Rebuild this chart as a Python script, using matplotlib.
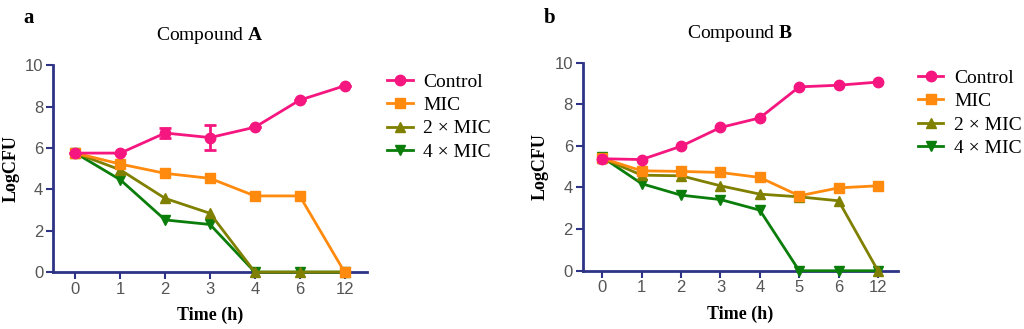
import numpy as np
import matplotlib
matplotlib.use('Agg')
import matplotlib.pyplot as plt

plt.rcParams['mathtext.fontset'] = 'custom'
plt.rcParams['mathtext.rm'] = 'Liberation Serif'
plt.rcParams['mathtext.bf'] = 'Liberation Serif:bold'

# panel a (Compound A)
times_a = ['0', '1', '2', '3', '4', '6', '12']
ctrl_a = [5.75, 5.75, 6.72, 6.50, 7.00, 8.31, 9.00]
ctrl_err_a = [0, 0, 0.22, 0.62, 0, 0, 0]
mic_a = [5.75, 5.22, 4.77, 4.53, 3.68, 3.68, 0.0]
mic2_a = [5.75, 4.94, 3.56, 2.84, 0.0, 0.0, 0.0]
mic4_a = [5.75, 4.46, 2.52, 2.30, 0.0, 0.0, 0.0]

# panel b (Compound B)
times_b = ['0', '1', '2', '3', '4', '5', '6', '12']
ctrl_b = [5.38, 5.34, 5.98, 6.88, 7.34, 8.83, 8.91, 9.06]
mic_b = [5.40, 4.80, 4.77, 4.72, 4.48, 3.60, 3.98, 4.08]
mic2_b = [5.40, 4.59, 4.56, 4.08, 3.68, 3.55, 3.36, 0.0]
mic4_b = [5.45, 4.18, 3.63, 3.42, 2.91, 0.0, 0.0, 0.0]

labels = ['Control', 'MIC', '2 \u00d7 MIC', '4 \u00d7 MIC']
colors = ['#f5167f', '#ff8a0d', '#808000', '#0a7d0a']
markers = ['o', 's', '^', 'v']
navy = '#2e3386'

fig = plt.figure(figsize=(10.24, 3.29), dpi=100)


def draw_panel(ax, times, series, err, title, letter, leg_x, leg_y):
    x = np.arange(len(times))
    handles = []
    for i, (vals, lab) in enumerate(zip(series, labels)):
        h, = ax.plot(x, vals, color=colors[i], marker=markers[i], ms=7.5,
                     lw=2, label=lab, zorder=4 if i == 0 else 3 + (3 - i) * 0.1,
                     clip_on=False)
        handles.append(h)
        if i == 0 and err is not None:
            ax.errorbar(x, vals, yerr=err, fmt='none', ecolor=colors[0],
                        elinewidth=2, capsize=4, capthick=2, zorder=4)
    ax.set_xlim(-0.5, len(times) - 0.5)
    ax.set_ylim(0, 10)
    ax.set_yticks(range(0, 11, 2))
    ax.set_xticks(x)
    ax.set_xticklabels(times)
    for s in ['top', 'right']:
        ax.spines[s].set_visible(False)
    for s in ['left', 'bottom']:
        ax.spines[s].set_color(navy)
        ax.spines[s].set_linewidth(2)
    ax.tick_params(colors=navy, labelcolor='#555555', width=1.5, length=5,
                   labelsize=12, direction='out', pad=2)
    for t in ax.get_xticklabels() + ax.get_yticklabels():
        t.set_family('Liberation Sans')
    ax.set_xlabel('Time (h)', family='Liberation Serif', weight='bold',
                  fontsize=13, labelpad=7)
    ax.set_ylabel('LogCFU', family='Liberation Serif', weight='bold',
                  fontsize=13, labelpad=4)
    ax.set_title(title, family='Liberation Serif', fontsize=14, pad=18)
    ax.legend(handles=handles, loc='upper left', bbox_to_anchor=(leg_x, leg_y),
              frameon=False, prop={'family': 'Liberation Serif', 'size': 14},
              handlelength=1.3, handletextpad=0.55, labelspacing=0.3,
              borderaxespad=0)
    fig.text(letter[0], letter[1], letter[2], family='Liberation Serif',
             weight='bold', fontsize=15, va='center', ha='center')


ax1 = fig.add_axes([0.0518, 0.173, 0.3066, 0.629])
draw_panel(ax1, times_a, [ctrl_a, mic_a, mic2_a, mic4_a], ctrl_err_a,
           r'Compound $\mathbf{A}$', (0.028, 0.945, 'a'), 1.04, 1.0)

ax2 = fig.add_axes([0.569, 0.177, 0.3076, 0.633])
draw_panel(ax2, times_b, [ctrl_b, mic_b, mic2_b, mic4_b], None,
           r'Compound $\mathbf{B}$', (0.537, 0.945, 'b'), 1.04, 1.005)

fig.savefig('out.png', dpi=100)
